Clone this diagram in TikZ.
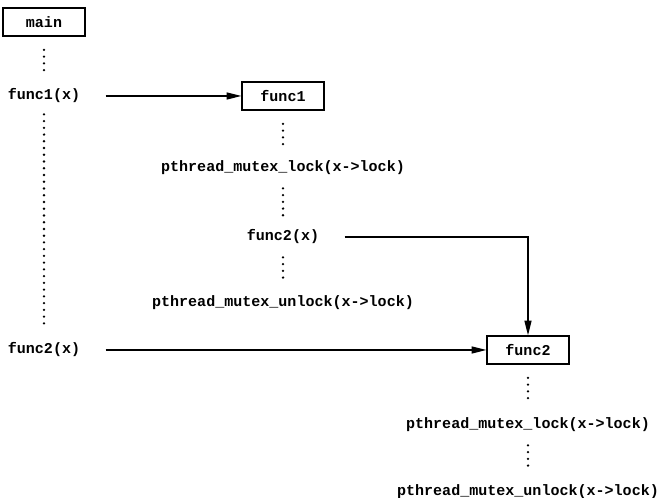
\documentclass[tikz,border=0pt]{standalone}
\usepackage{fontspec}
\setmonofont{Liberation Mono}
\usetikzlibrary{arrows.meta}

\begin{document}
\begin{tikzpicture}[
    >={Triangle[length=10.5pt,width=5pt]},
    fnbox/.style={draw, line width=0.9pt, minimum width=2.05cm, minimum height=0.7cm, inner sep=0pt, font=\fontsize{10.7}{12}\selectfont\ttfamily\bfseries},
    calltext/.style={inner sep=0pt, minimum height=0.7cm, font=\fontsize{10.7}{12}\selectfont\ttfamily\bfseries},
    dotrun/.style={line width=1.8pt, line cap=round, dash pattern=on 0pt off 4.8pt, shorten <=0.15cm, shorten >=0.15cm},
    callarrow/.style={->, line width=0.9pt, shorten <=0.63cm}
  ]
  \useasboundingbox (0,0) rectangle (16.5,12.45);
  % caller side
  \node[fnbox] (main) at (1.1,11.9) {main};
  \node[calltext] (call1) at (1.1,10.05) {func1(x)};
  \node[calltext] (call4) at (1.1,3.7) {func2(x)};
  % func1
  \node[fnbox] (func1) at (7.075,10.05) {func1};
  \node[calltext] (lock1) at (7.075,8.25) {pthread\_mutex\_lock(x->lock)};
  \node[calltext] (call2) at (7.075,6.525) {func2(x)};
  \node[calltext] (unlock1) at (7.075,4.875) {pthread\_mutex\_unlock(x->lock)};
  % func2
  \node[fnbox] (func2) at (13.2,3.7) {func2};
  \node[calltext] (lock2) at (13.2,1.825) {pthread\_mutex\_lock(x->lock)};
  \node[calltext] (unlock2) at (13.2,0.15) {pthread\_mutex\_unlock(x->lock)};

  \draw[dotrun, shorten <=0.33cm] (main) -- (call1);
  \draw[dotrun, shorten <=0.1cm] (call1) -- (call4);
  \draw[dotrun, shorten <=0.33cm] (func1) -- (lock1);
  \draw[dotrun] (lock1) -- (call2);
  \draw[dotrun] (call2) -- (unlock1);
  \draw[dotrun, shorten <=0.33cm] (func2) -- (lock2);
  \draw[dotrun] (lock2) -- (unlock2);

  \draw[callarrow] (call1.east) -- (func1.west);
  \draw[callarrow] (call2.east) -| (func2.north);
  \draw[callarrow] (call4.east) -- (func2.west);
\end{tikzpicture}
\end{document}
